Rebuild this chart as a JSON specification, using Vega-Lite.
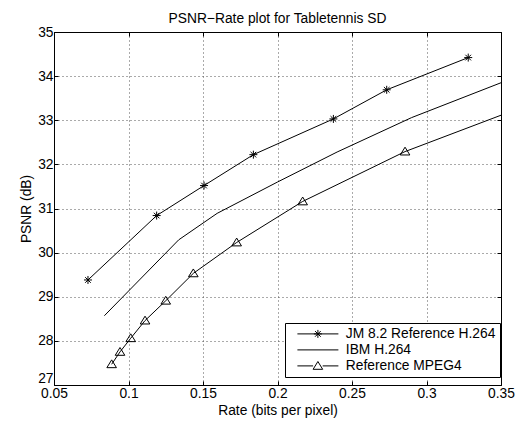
{
  "$schema": "https://vega.github.io/schema/vega-lite/v6.json",
  "width": 447,
  "height": 353,
  "autosize": "none",
  "padding": {"left": 54, "top": 32, "right": 17, "bottom": 37},
  "background": "white",
  "title": {"text": "PSNR−Rate plot for Tabletennis SD", "fontSize": 13.8, "fontWeight": "normal", "font": "Liberation Sans", "color": "black", "offset": -1},
  "data": {"values": [
    {"series": "JM 8.2 Reference H.264", "rate": 0.0728, "psnr": 29.38},
    {"series": "JM 8.2 Reference H.264", "rate": 0.1189, "psnr": 30.84},
    {"series": "JM 8.2 Reference H.264", "rate": 0.1507, "psnr": 31.52},
    {"series": "JM 8.2 Reference H.264", "rate": 0.1838, "psnr": 32.22},
    {"series": "JM 8.2 Reference H.264", "rate": 0.2375, "psnr": 33.03},
    {"series": "JM 8.2 Reference H.264", "rate": 0.2733, "psnr": 33.69},
    {"series": "JM 8.2 Reference H.264", "rate": 0.328, "psnr": 34.42},
    {"series": "IBM H.264", "rate": 0.0838, "psnr": 28.57},
    {"series": "IBM H.264", "rate": 0.1337, "psnr": 30.29},
    {"series": "IBM H.264", "rate": 0.1595, "psnr": 30.89},
    {"series": "IBM H.264", "rate": 0.2, "psnr": 31.6},
    {"series": "IBM H.264", "rate": 0.24, "psnr": 32.28},
    {"series": "IBM H.264", "rate": 0.29, "psnr": 33.06},
    {"series": "IBM H.264", "rate": 0.35, "psnr": 33.85},
    {"series": "Reference MPEG4", "rate": 0.0887, "psnr": 27.47},
    {"series": "Reference MPEG4", "rate": 0.0943, "psnr": 27.75},
    {"series": "Reference MPEG4", "rate": 0.1015, "psnr": 28.06},
    {"series": "Reference MPEG4", "rate": 0.1111, "psnr": 28.46},
    {"series": "Reference MPEG4", "rate": 0.125, "psnr": 28.91},
    {"series": "Reference MPEG4", "rate": 0.1435, "psnr": 29.53},
    {"series": "Reference MPEG4", "rate": 0.1726, "psnr": 30.23},
    {"series": "Reference MPEG4", "rate": 0.2169, "psnr": 31.16},
    {"series": "Reference MPEG4", "rate": 0.2856, "psnr": 32.29},
    {"series": "Reference MPEG4", "rate": 0.37, "psnr": 33.37}
  ]},
  "config": {
    "view": {"stroke": null},
    "font": "Liberation Sans",
    "axis": {
      "labelFont": "Liberation Sans", "labelFontSize": 13.8, "labelColor": "black", "labelFlush": false,
      "titleFont": "Liberation Sans", "titleFontSize": 13.8, "titleFontWeight": "normal", "titleColor": "black",
      "domainColor": "black", "domainWidth": 1, "tickColor": "black", "tickSize": -4, "tickWidth": 1,
      "gridColor": "#555", "gridDash": [1, 3], "gridOpacity": 1, "gridWidth": 1, "labelPadding": 5
    },
    "legend": {
      "orient": "none", "legendX": 231, "legendY": 291,
      "padding": 4, "strokeColor": "black", "fillColor": "white",
      "symbolSize": 49, "symbolStrokeWidth": 1, "symbolStrokeColor": "black", "symbolFillColor": "white",
      "symbolOpacity": 1, "symbolOffset": 22,
      "labelFont": "Liberation Sans", "labelFontSize": 13.8, "labelColor": "black", "labelOffset": 21,
      "rowPadding": 1
    }
  },
  "layer": [
    {
      "mark": {"type": "line", "color": "black", "strokeWidth": 1, "clip": true},
      "encoding": {
        "x": {"field": "rate", "type": "quantitative", "scale": {"domain": [0.05, 0.35], "nice": false, "zero": false},
              "axis": {"values": [0.05, 0.1, 0.15, 0.2, 0.25, 0.3, 0.35], "format": "~g", "title": "Rate (bits per pixel)", "grid": true, "labelPadding": 5}},
        "y": {"field": "psnr", "type": "quantitative", "scale": {"domain": [27, 35], "nice": false, "zero": false},
              "axis": {"values": [27, 28, 29, 30, 31, 32, 33, 34, 35], "title": "PSNR (dB)", "grid": true,
                       "labelBaseline": {"condition": {"test": "datum.value == 27", "value": "bottom"}, "value": "middle"}}},
        "detail": {"field": "series"}
      }
    },
    {
      "transform": [{"filter": "datum.series === 'JM 8.2 Reference H.264'"}],
      "mark": {"type": "point", "shape": "M0,-1V1M-1,0H1M-0.7,-0.7L0.7,0.7M-0.7,0.7L0.7,-0.7", "size": 64, "filled": false, "color": "black", "strokeWidth": 1, "opacity": 1, "clip": true},
      "encoding": {
        "x": {"field": "rate", "type": "quantitative", "axis": {"orient": "top", "labels": false, "grid": false, "title": null, "values": [0.05, 0.1, 0.15, 0.2, 0.25, 0.3, 0.35]}},
        "y": {"field": "psnr", "type": "quantitative", "axis": {"orient": "right", "labels": false, "grid": false, "title": null, "values": [27, 28, 29, 30, 31, 32, 33, 34, 35]}}
      }
    },
    {
      "transform": [{"filter": "datum.series === 'Reference MPEG4'"}],
      "mark": {"type": "point", "shape": "M-1.2,0.85L0,-1.1L1.2,0.85Z", "size": 64, "filled": false, "color": "black", "strokeWidth": 1, "opacity": 1, "clip": true},
      "encoding": {
        "x": {"field": "rate", "type": "quantitative", "axis": null},
        "y": {"field": "psnr", "type": "quantitative", "axis": null}
      }
    },
    {
      "mark": {"type": "point", "filled": false, "color": "black", "opacity": 0},
      "encoding": {
        "x": {"field": "rate", "type": "quantitative", "axis": null},
        "y": {"field": "psnr", "type": "quantitative", "axis": null},
        "shape": {"field": "series", "type": "nominal",
          "scale": {"domain": ["JM 8.2 Reference H.264", "IBM H.264", "Reference MPEG4"],
                    "range": ["M-5.857,0H5.857M0,-1.143V1.143M-1.143,0H1.143M-0.808,-0.808L0.808,0.808M-0.808,0.808L0.808,-0.808", "M-5.857,0H5.857", "M-5.857,0H-1.371M1.371,0H5.857M-1.371,0.971L0,-1.257L1.371,0.971Z"]},
          "legend": {"title": null}}
      }
    }
  ],
  "resolve": {"axis": {"x": "independent", "y": "independent"}}
}
